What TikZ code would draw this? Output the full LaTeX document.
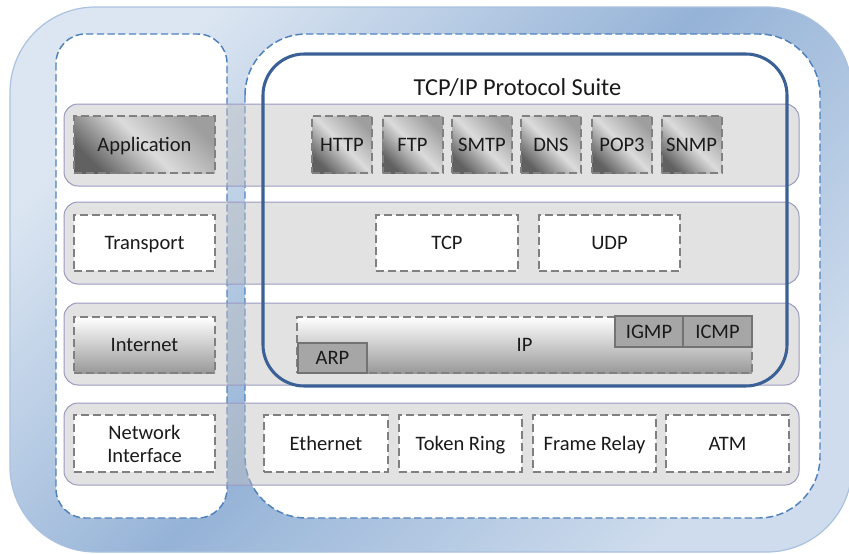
\documentclass[tikz,border=0pt]{standalone}
\usepackage{fontspec}
\setmainfont{Carlito}
\definecolor{suiteblue}{HTML}{3B6095}
\definecolor{dashblue}{HTML}{4F81BD}
\definecolor{outerlight}{HTML}{DCE6F2}
\definecolor{outerdark}{HTML}{95B3D7}
\definecolor{bandline}{HTML}{9999C2}
\definecolor{boxgray}{HTML}{808080}
\definecolor{txt}{HTML}{1A1A1A}
\definecolor{protogray}{HTML}{A6A6A6}

\begin{document}
\begin{tikzpicture}[x=0.75pt,y=-0.75pt,
		every node/.style={inner sep=0pt,outer sep=0pt,text=txt,font=\fontsize{15.4}{17.3}\selectfont},
		sz/.style 2 args={minimum width=#1*0.75pt,minimum height=#2*0.75pt},
		oneline/.style={text height=9.9pt,text depth=0pt},
		layer/.style={draw=bandline,line width=0.75pt,fill=black!25,fill opacity=0.45,rounded corners=10.5pt},
		plainbox/.style={oneline,draw=boxgray,line width=1.5pt,dash pattern=on 6pt off 3pt,fill=white},
		metalbox/.style={plainbox,top color=black!38,bottom color=black!62,middle color=black!14,shading angle=-45},
		fadebox/.style={plainbox,top color=white,bottom color=black!40},
		protobox/.style={oneline,draw=black!55,line width=1.2pt,fill=protogray},
		areabox/.style={draw=dashblue,line width=1.1pt,dash pattern=on 5.5pt off 2.5pt,fill=white}]
		\useasboundingbox (0,0) rectangle (849,553);
		\clip (0,0) rectangle (849,553);
		% outer frame
		\draw [draw=outerdark!80,line width=0.9pt,top color=outerlight,bottom color=outerlight!80!outerdark,middle color=outerdark,shading angle=45,rounded corners=64pt] (10,7) rectangle (852,552);
		% layer column and suite area
		\draw [areabox,rounded corners=22pt] (56,34) rectangle (227,518);
		\draw [areabox,rounded corners=46pt] (245,34) rectangle (820,518);
		% layer bands
		\node (appband) [layer,sz={735}{82}] at (431.5,145) {};
		\node (trband) [layer,sz={735}{82}] at (431.5,243) {};
		\node (inband) [layer,sz={735}{82}] at (431.5,344) {};
		\node (netband) [layer,sz={735}{82}] at (431.5,444) {};
		% TCP/IP suite
		\draw [suiteblue,line width=2.3pt,rounded corners=31pt] (263,54) rectangle (787,386);
		\node (suite) at (517.5,88) {\fontsize{18.3}{20}\selectfont TCP/IP Protocol Suite};
		% layer names
		\node (application) [metalbox,sz={141}{57}] at (144.5,144.5) {Application};
		\node (transport) [plainbox,sz={141}{56}] at (144.5,243) {Transport};
		\node (internet) [fadebox,sz={141}{56}] at (144.5,345) {Internet};
		\node (netif) [plainbox,text height={},text depth={},sz={141}{57},align=center] at (144.5,443.5) {Network\\Interface};
		% application protocols
		\node (http) [metalbox,sz={60}{57}] at (342,144.5) {HTTP};
		\node (ftp) [metalbox,sz={60}{57}] at (412.5,144.5) {FTP};
		\node (smtp) [metalbox,sz={60}{57}] at (482,144.5) {SMTP};
		\node (dns) [metalbox,sz={60}{57}] at (551,144.5) {DNS};
		\node (pop) [metalbox,sz={60}{57}] at (622,144.5) {POP3};
		\node (snmp) [metalbox,sz={60}{57}] at (691.5,144.5) {SNMP};
		% transport protocols
		\node (tcp) [plainbox,sz={142}{56}] at (447,243) {TCP};
		\node (udp) [plainbox,sz={141}{56}] at (609.5,243) {UDP};
		% internet protocols
		\node (ip) [fadebox,sz={455}{56}] at (524.5,345) {IP};
		\node (arp) [protobox,sz={69}{30}] at (332.5,358) {ARP};
		\node (igmp) [protobox,sz={68}{31}] at (649,331.5) {IGMP};
		\node (icmp) [protobox,sz={69}{31}] at (717.5,331.5) {ICMP};
		% network interface protocols
		\node (ethernet) [plainbox,sz={124}{57}] at (326,443.5) {Ethernet};
		\node (tokenring) [plainbox,sz={123}{57}] at (460.5,443.5) {Token Ring};
		\node (framerelay) [plainbox,sz={123}{57}] at (594.5,443.5) {Frame Relay};
		\node (atm) [plainbox,sz={123}{57}] at (727.5,443.5) {ATM};
	\end{tikzpicture}
\end{document}
